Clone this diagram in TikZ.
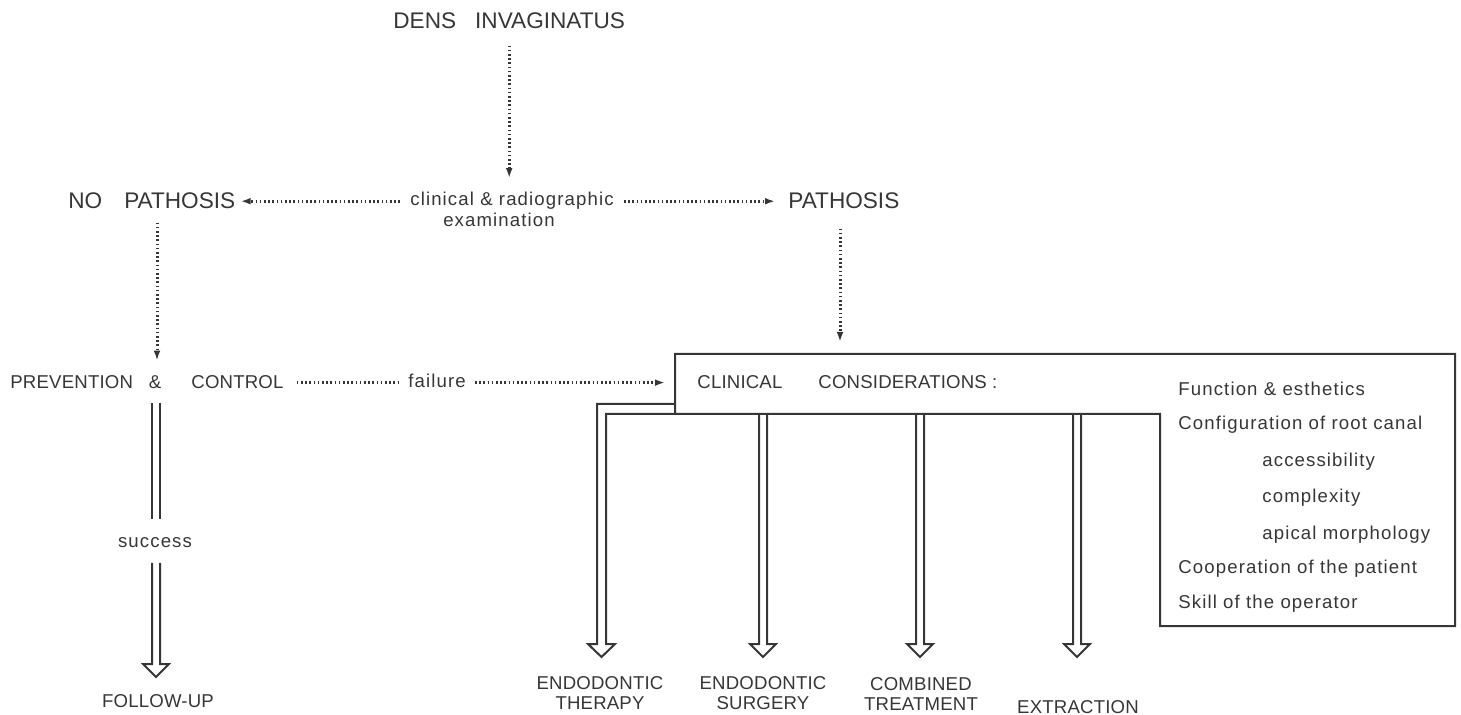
\documentclass[tikz,border=0pt]{standalone}
\usepackage{fontspec}
\setmainfont{Liberation Sans}
\newfontfamily\lowf{Liberation Sans}[LetterSpace=6]
\newfontfamily\capf{Liberation Sans}[LetterSpace=1]
\usetikzlibrary{arrows.meta,calc}
\definecolor{ink}{HTML}{363636}
\newcommand\txsmall{\fontsize{9.3}{10}\selectfont}
\newcommand\txbig{\fontsize{11.3}{13}\selectfont}
\newcommand\hollowarrow[2]{%
  \draw[ln] ($(#1)+(-4,0)$) -- ($(#2)+(-4,-13)$) -- ($(#2)+(-13,-13)$) -- (#2)
    -- ($(#2)+(13,-13)$) -- ($(#2)+(4,-13)$) -- ($(#1)+(4,0)$);}
\begin{document}
\begin{tikzpicture}[x=0.5pt,y=-0.5pt,
  lbl/.style={inner sep=0pt, text=ink, font=\capf\txsmall},
  big/.style={inner sep=0pt, text=ink, font=\txbig},
  low/.style={inner sep=0pt, text=ink, font=\lowf\txsmall},
  ln/.style={draw=ink, line width=1pt, line join=miter},
  dots/.style={draw=ink, line width=1.5pt, dash pattern=on 0.8pt off 1.3pt},
  dotarrow/.style={dots, -{Latex[length=5pt,width=3.4pt]}},
]
\useasboundingbox (0,0) rectangle (1461,715);

% top labels
\node[big, anchor=base west] (dens) at (393,29) {DENS\hspace{9.5pt}INVAGINATUS};
\node[big, anchor=base west] (nopath) at (68,209) {NO\hspace{11pt}PATHOSIS};
\node[low, anchor=base] (exam1) at (512,206) {clinical \& radiographic};
\node[low, anchor=base] (exam2) at (499,227) {examination};
\node[big, anchor=base west] (path) at (788,209) {PATHOSIS};

% middle row
\node[lbl, anchor=base west] (prev) at (10,389) {PREVENTION\hspace{8pt}\&\hspace{15pt}CONTROL};
\node[low, anchor=base] (failure) at (437,388) {failure};
\node[lbl, anchor=base west] (clin) at (697,389) {CLINICAL\hspace{18pt}CONSIDERATIONS :};

% considerations list
\node[low, anchor=base west] (l1) at (1178,396) {Function \& esthetics};
\node[low, anchor=base west] (l2) at (1178,430) {Configuration of root canal};
\node[low, anchor=base west] (l3) at (1262,467) {accessibility};
\node[low, anchor=base west] (l4) at (1262,503) {complexity};
\node[low, anchor=base west] (l5) at (1262,539) {apical morphology};
\node[low, anchor=base west] (l6) at (1178,574) {Cooperation of the patient};
\node[low, anchor=base west] (l7) at (1178,609) {Skill of the operator};

% lower labels
\node[low, anchor=base] (success) at (155,548) {success};
\node[lbl, anchor=base] (follow) at (158,707) {FOLLOW-UP};
\node[lbl, align=center] (ther) at (600,693) {ENDODONTIC\\THERAPY};
\node[lbl, align=center] (surg) at (763,693) {ENDODONTIC\\SURGERY};
\node[lbl, align=center] (comb) at (921,694) {COMBINED\\TREATMENT};
\node[lbl, anchor=base] (extr) at (1078,713) {EXTRACTION};

% box corner reference
\coordinate (boxtl) at (675,354);

% dotted connectors
\draw[dotarrow, shorten <=8pt, shorten >=7pt] (dens.south) -- (dens.south |- exam1.north);
\draw[dotarrow, shorten <=5pt, shorten >=2.5pt] (exam1.west |- nopath.east) -- (nopath.east);
\draw[dotarrow, shorten <=5pt, shorten >=6.5pt] (exam1.east |- path.west) -- (path.west);
\draw[dotarrow, shorten <=6.5pt, shorten >=7.5pt] (nopath.south -| 157,0) -- (prev.north -| 157,0);
\draw[dotarrow, shorten <=9.5pt, shorten >=6pt] (path.south -| 840,0) -- (boxtl -| 840,0);
\draw[dots, shorten <=6.5pt, shorten >=4pt] (prev.east) -- (failure.west |- prev.east);
\draw[dotarrow, shorten <=4.5pt, shorten >=5pt] (failure.east |- prev.east) -- (boxtl |- prev.east);

% box, bus and first hollow arrow
\draw[ln] (675,414) -- (boxtl) -- (1455,354) -- (1455,626) -- (1160,626) -- (1160,414)
  -- (606,414) -- (606,644) -- (615,644) -- (601.5,657) -- (588,644) -- (597,644)
  -- (597,404) -- (675,404);

% branch hollow arrows
\coordinate (t2) at (763,414);  \coordinate (h2) at (763,657);
\coordinate (t3) at (920,414);  \coordinate (h3) at (920,657);
\coordinate (t4) at (1077,414); \coordinate (h4) at (1077,657);
\hollowarrow{t2}{h2}
\hollowarrow{t3}{h3}
\hollowarrow{t4}{h4}

% prevention double arrow
\coordinate (p1) at (156,403); \coordinate (p2) at (156,519);
\draw[ln] ($(p1)+(-4,0)$) -- ($(p2)+(-4,0)$) ($(p1)+(4,0)$) -- ($(p2)+(4,0)$);
\coordinate (s1) at (156,563); \coordinate (f1) at (156,677);
\hollowarrow{s1}{f1}
\end{tikzpicture}
\end{document}
